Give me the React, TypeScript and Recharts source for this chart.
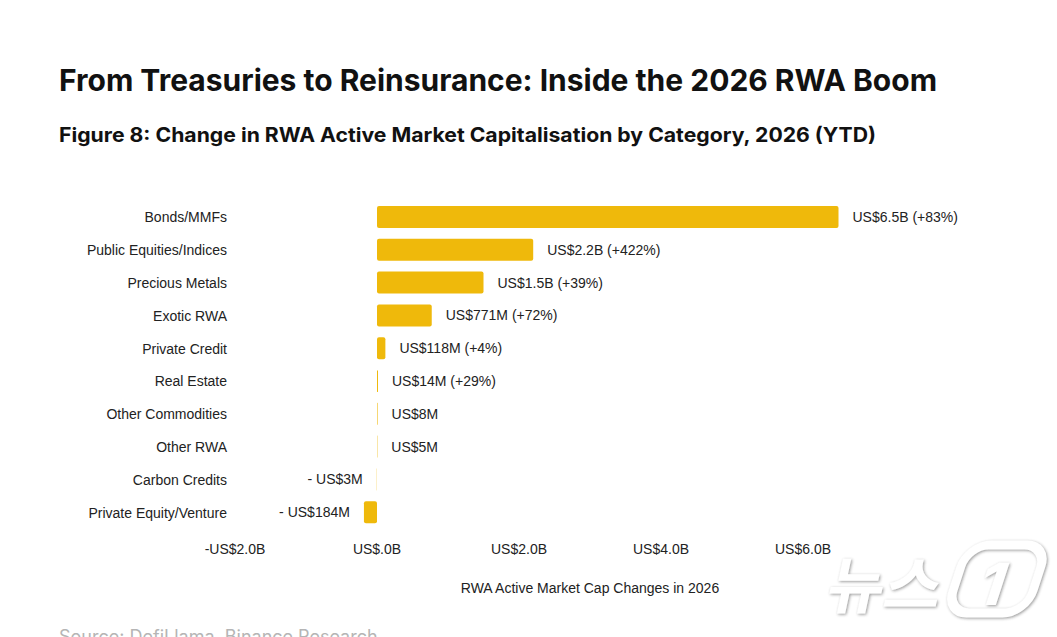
import { BarChart, Bar, XAxis, YAxis, LabelList } from "recharts";

const categories = [
  "Bonds/MMFs",
  "Public Equities/Indices",
  "Precious Metals",
  "Exotic RWA",
  "Private Credit",
  "Real Estate",
  "Other Commodities",
  "Other RWA",
  "Carbon Credits",
  "Private Equity/Venture",
];

// change in active market cap, US$ billions
const changes = [6.5, 2.2, 1.5, 0.771, 0.118, 0.014, 0.008, 0.005, -0.003, -0.184];

const valueLabels = [
  "US$6.5B (+83%)",
  "US$2.2B (+422%)",
  "US$1.5B (+39%)",
  "US$771M (+72%)",
  "US$118M (+4%)",
  "US$14M (+29%)",
  "US$8M",
  "US$5M",
  "- US$3M",
  "- US$184M",
];

const xTicks = [-2, 0, 2, 4, 6];

const data = categories.map((name, i) => ({ name, value: changes[i], label: valueLabels[i] }));

const BAR_COLOR = "#EFB90B";
const FONT = "'Liberation Sans', Arial, sans-serif";
const TITLE_FONT = "Inter, 'Open Sans', sans-serif";

const fmtTick = (v: number) => {
  if (v === 0) return "US$.0B";
  return `${v < 0 ? "-" : ""}US$${Math.abs(v).toFixed(1)}B`;
};

const ValueLabel = (props: any) => {
  const { x, y, width, height, index } = props;
  const v = changes[index];
  const end = Number(x) + Number(width);
  const cy = Number(y) + Number(height) / 2;
  const neg = v < 0;
  return (
    <text
      x={neg ? Math.min(Number(x), end) - 14 : Math.max(Number(x), end) + 14}
      y={cy}
      dy="0.35em"
      textAnchor={neg ? "end" : "start"}
      fontSize={14}
      fontFamily={FONT}
      fill="#222"
    >
      {valueLabels[index]}
    </text>
  );
};

export default function App() {
  return (
    <div style={{ position: "absolute", left: 0, top: 0, width: 1057, height: 637, background: "#fff", overflow: "hidden" }}>
      <BarChart
        width={1057}
        height={637}
        data={data}
        layout="vertical"
        margin={{ top: 201, right: 112, left: 0, bottom: 48 }}
      >
        <XAxis
          type="number"
          domain={[-2, 8]}
          ticks={xTicks}
          tickFormatter={fmtTick}
          axisLine={false}
          tickLine={false}
          tickMargin={9}
          height={60}
          tick={{ fontSize: 14, fill: "#222", fontFamily: FONT }}
          label={{
            value: "RWA Active Market Cap Changes in 2026",
            position: "insideBottom",
            offset: -4,
            fontSize: 14,
            fill: "#222",
            fontFamily: FONT,
          }}
        />
        <YAxis
          type="category"
          dataKey="name"
          width={235}
          axisLine={false}
          tickLine={false}
          interval={0}
          tick={{ fontSize: 14, fill: "#222", fontFamily: FONT }}
        />
        <Bar dataKey="value" fill={BAR_COLOR} barSize={22} radius={2} isAnimationActive={false}>
          <LabelList dataKey="label" content={ValueLabel} />
        </Bar>
      </BarChart>

      <svg width={1057} height={637} style={{ position: "absolute", left: 0, top: 0, pointerEvents: "none" }}>
        <defs>
          <filter id="wmShadow" x="-20%" y="-20%" width="140%" height="140%">
            <feDropShadow dx="1" dy="1" stdDeviation="1.5" floodColor="#777" floodOpacity="0.8" />
          </filter>
        </defs>
        <text x={59} y={91} fontFamily={TITLE_FONT} fontWeight={700} fontSize={30} fill="#111" textLength={878} lengthAdjust="spacingAndGlyphs">
          From Treasuries to Reinsurance: Inside the 2026 RWA Boom
        </text>
        <text x={59} y={142} fontFamily={TITLE_FONT} fontWeight={700} fontSize={20} fill="#111" textLength={817} lengthAdjust="spacingAndGlyphs">
          Figure 8: Change in RWA Active Market Capitalisation by Category, 2026 (YTD)
        </text>
        <text x={59} y={643} fontFamily={TITLE_FONT} fontSize={18} fill="#b5b5b5">
          Source: DefiLlama, Binance Research
        </text>
        <g filter="url(#wmShadow)" opacity={0.95}>
          <text x={825} y={608} fontFamily="'Noto Sans CJK KR', sans-serif" fontWeight={700} fontSize={62} fill="#fff" transform="skewX(-12) translate(128 0)">
            뉴스
          </text>
          <rect x={955} y={545} width={80} height={68} rx={22} fill="none" stroke="#fff" strokeWidth={9} transform="skewX(-18) translate(190 0)" />
          <text x={980} y={605} fontFamily={TITLE_FONT} fontWeight={800} fontSize={58} fill="#fff" transform="skewX(-18) translate(190 0)">
            1
          </text>
        </g>
      </svg>
    </div>
  );
}
